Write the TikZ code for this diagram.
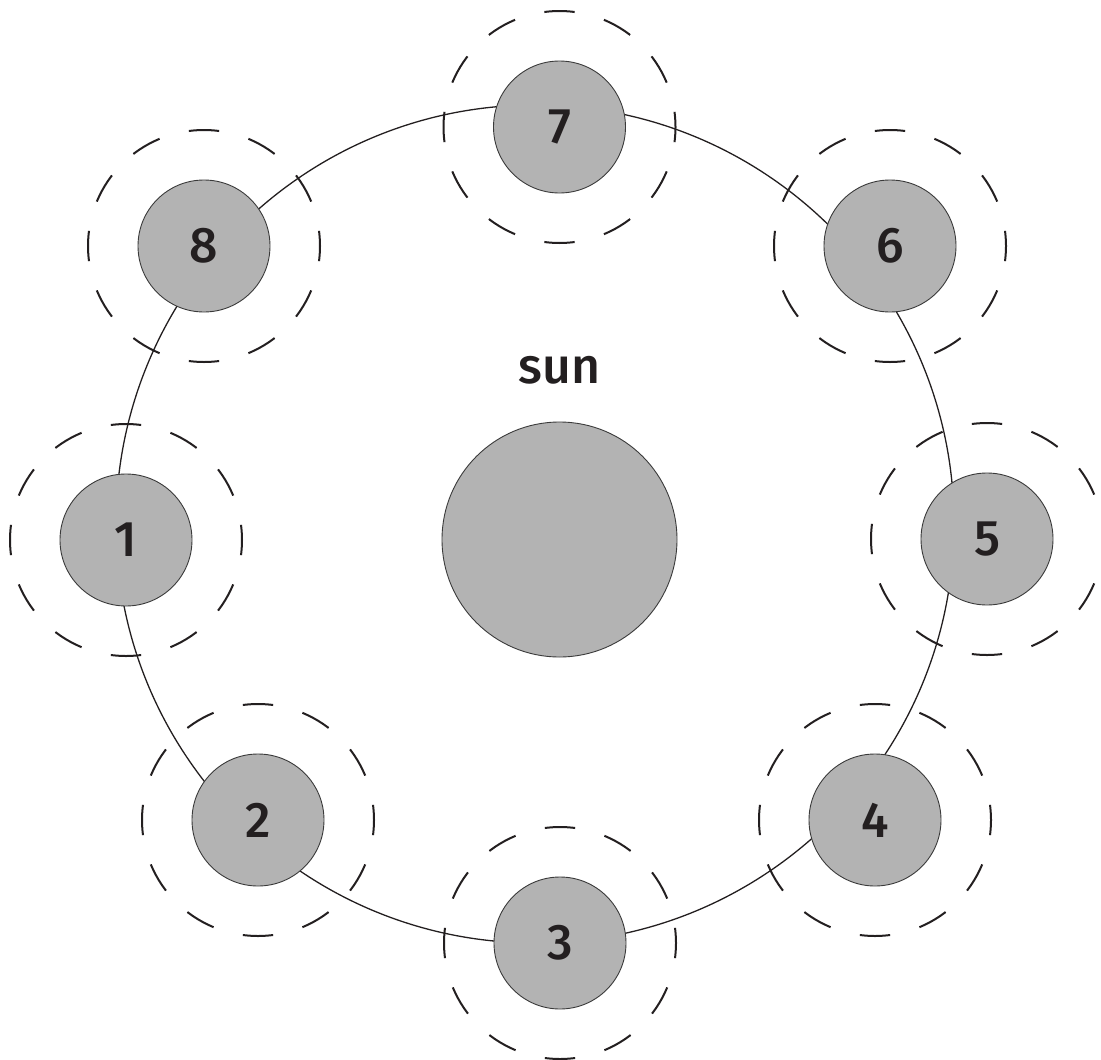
\documentclass[tikz,border=0pt]{standalone}
\usepackage{fontspec}
\setmainfont{Fira Sans}
\newfontfamily\planetfont{Fira Sans Medium}
\usepackage{xcolor}
\usepackage{tikz}
\usetikzlibrary{positioning}
\definecolor{planetgray}{HTML}{B3B3B3}
\definecolor{inkblack}{HTML}{231F20}
\definecolor{rimgray}{HTML}{3A3A3A}

\begin{document}
\begin{tikzpicture}[x=1pt, y=-1pt,
    orbitline/.style={circle, draw=inkblack, line width=1.3pt, minimum size=838pt, inner sep=0pt},
    halo/.style={circle, draw=inkblack, line width=2pt, minimum size=232pt, inner sep=0pt,
        dash pattern=on 30.37pt off 30.37pt, dash phase=15.18pt},
    planet/.style={circle, draw=rimgray, fill=planetgray, line width=0.9pt, minimum size=132pt, inner sep=0pt,
        font=\planetfont\fontsize{50}{50}\selectfont, text=inkblack},
    tag/.style={inner sep=0pt, font=\planetfont\fontsize{50}{50}\selectfont, text=inkblack}
]
    \useasboundingbox (0,0) rectangle (1101,1060);

    % orbit
    \node (orbit) [orbitline] at (535,524) {};

    % sun
    \node (sun) [planet, minimum size=235pt] at (559.5,539.5) {};
    \node (sunlabel) [tag, above=37pt of sun] {sun};

    % planets with their dashed halos
    \foreach \n/\x/\y in {1/126/540, 2/258/820, 3/560/943, 4/875/820,
                          5/987/539, 6/890/246, 7/559.5/127, 8/204/246} {
        \node (h\n) [halo] at (\x,\y) {};
        \node (p\n) [planet] at (\x,\y) {\n};
    }
\end{tikzpicture}
\end{document}
